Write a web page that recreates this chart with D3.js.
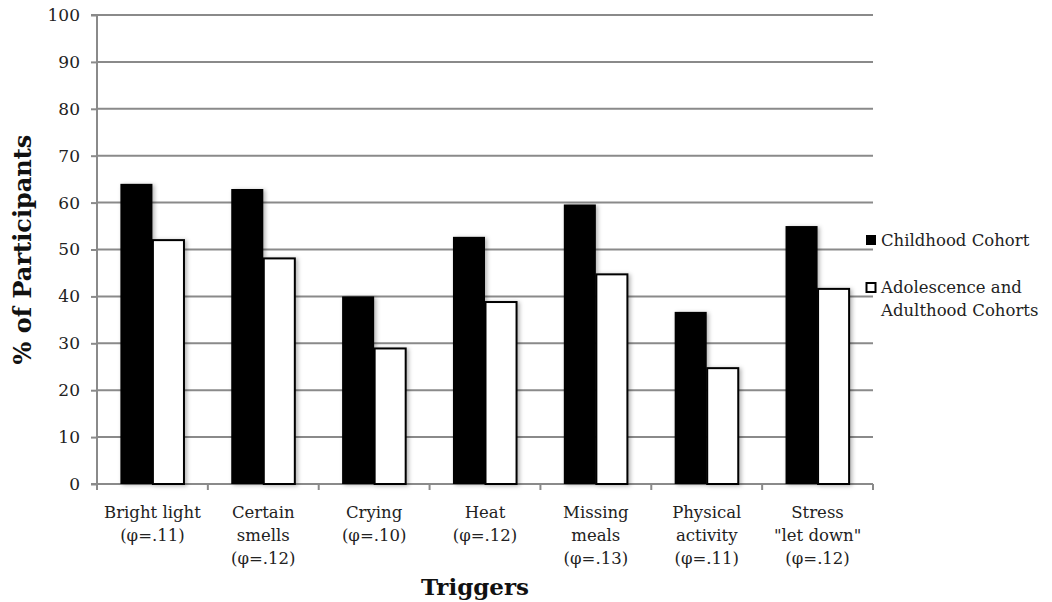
<!DOCTYPE html>
<html>
<head>
<meta charset="utf-8">
<script src="https://cdn.jsdelivr.net/npm/d3@7"></script>
<style>
html,body{margin:0;padding:0;background:#fff;}
svg{display:block;}
</style>
</head>
<body>
<svg id="chart" width="1052" height="602"></svg>
<script>
const categories = ["Bright light","Certain smells","Crying","Heat","Missing meals","Physical activity","Stress \"let down\""];
const categoryLabels = [
  ["Bright light","(φ=.11)"],
  ["Certain","smells","(φ=.12)"],
  ["Crying","(φ=.10)"],
  ["Heat","(φ=.12)"],
  ["Missing","meals","(φ=.13)"],
  ["Physical","activity","(φ=.11)"],
  ["Stress","\"let down\"","(φ=.12)"]
];
const seriesNames = ["Childhood Cohort","Adolescence and Adulthood Cohorts"];
const childhood = [64, 62.9, 40, 52.7, 59.6, 36.7, 55];
const adolescence = [52, 48.1, 28.9, 38.8, 44.7, 24.7, 41.6];
const yTicks = [0,10,20,30,40,50,60,70,80,90,100];

(function(){
const svg = d3.select("#chart");
const mLeft = 97, mRight = 873, mTop = 15, mBottom = 484;
const serif = "'DejaVu Serif', serif";
const grid = "#8a8a8a";

const defs = svg.append("defs");
const f = defs.append("filter").attr("id","sh").attr("x","-20%").attr("y","-20%").attr("width","150%").attr("height","150%");
f.append("feDropShadow").attr("dx",2).attr("dy",1).attr("stdDeviation",2).attr("flood-color","#000").attr("flood-opacity",0.3);

const y = d3.scaleLinear().domain([0,100]).range([mBottom, mTop]);
const x0 = d3.scaleBand().domain(categories).range([mLeft, mRight]).padding(0);
const x1 = d3.scaleBand().domain(seriesNames).range([0, x0.bandwidth()]).paddingInner(0).paddingOuter(0.73);

// gridlines
svg.append("g").selectAll("line").data(yTicks).join("line")
  .attr("x1", mLeft).attr("x2", mRight)
  .attr("y1", d => y(d)).attr("y2", d => y(d))
  .attr("stroke", grid).attr("stroke-width", 2);

// y axis
const yAxis = d3.axisLeft(y).tickValues(yTicks).tickSize(6).tickPadding(11);
const yg = svg.append("g").attr("transform", `translate(${mLeft},0)`).call(yAxis);
yg.select(".domain").attr("stroke", grid).attr("stroke-width", 2).attr("d", `M-6,${mTop}H0V${mBottom}H-6`);
yg.selectAll(".tick line").attr("stroke", grid).attr("stroke-width", 2);
yg.selectAll(".tick text").attr("font-family", serif).attr("font-size", 17).attr("fill", "#222");

// x axis ticks at band boundaries
const boundaries = categories.map(c => x0(c)).concat([mRight]);
svg.append("g").selectAll("line").data(boundaries).join("line")
  .attr("x1", d => d).attr("x2", d => d)
  .attr("y1", mBottom).attr("y2", mBottom + 6)
  .attr("stroke", grid).attr("stroke-width", 2);

// bars
const data = categories.map((c,i) => ({cat:c, vals:[childhood[i], adolescence[i]]}));
const groups = svg.append("g").selectAll("g").data(data).join("g")
  .attr("transform", d => `translate(${x0(d.cat)},0)`);
groups.selectAll("rect").data(d => d.vals.map((v,j) => ({s:seriesNames[j], v, j}))).join("rect")
  .attr("x", d => x1(d.s) + (d.j===1 ? 0.5 : 0))
  .attr("width", d => x1.bandwidth() - (d.j===1 ? 1 : 0))
  .attr("y", d => y(d.v))
  .attr("height", d => y(0) - y(d.v))
  .attr("fill", d => d.j===0 ? "#000" : "#fff")
  .attr("stroke", d => d.j===0 ? "none" : "#000")
  .attr("stroke-width", 2)
  .attr("filter", "url(#sh)");

// category labels
const lab = svg.append("g").selectAll("text").data(categories).join("text")
  .attr("text-anchor", "middle")
  .attr("font-family", serif).attr("font-size", 16.5).attr("fill", "#222")
  .attr("x", d => x0(d) + x0.bandwidth()/2)
  .attr("y", 518);
lab.each(function(d,i){
  d3.select(this).selectAll("tspan").data(categoryLabels[i]).join("tspan")
    .attr("x", x0(d) + x0.bandwidth()/2)
    .attr("dy", (t,k) => k===0 ? 0 : 23)
    .text(t => t);
});

// axis titles
svg.append("text").attr("x", 475).attr("y", 595).attr("text-anchor","middle")
  .attr("font-family", serif).attr("font-weight","bold").attr("font-size", 23).attr("fill","#111")
  .text("Triggers");
svg.append("text").attr("transform", `translate(31,${(mTop+mBottom)/2}) rotate(-90)`).attr("text-anchor","middle")
  .attr("font-family", serif).attr("font-weight","bold").attr("font-size", 24).attr("fill","#111")
  .text("% of Participants");

// legend
const lg = svg.append("g");
lg.append("rect").attr("x",866).attr("y",235).attr("width",10).attr("height",10).attr("fill","#000");
lg.append("text").attr("x",881).attr("y",246).attr("font-family",serif).attr("font-size",16.5).attr("fill","#222").text(seriesNames[0]);
lg.append("rect").attr("x",866.5).attr("y",283).attr("width",9).attr("height",9).attr("fill","#fff").attr("stroke","#000").attr("stroke-width",2);
const t2 = lg.append("text").attr("font-family",serif).attr("font-size",16.5).attr("fill","#222");
t2.append("tspan").attr("x",881).attr("y",293).text("Adolescence and");
t2.append("tspan").attr("x",881).attr("y",316).text("Adulthood Cohorts");
})();
</script>
</body>
</html>
